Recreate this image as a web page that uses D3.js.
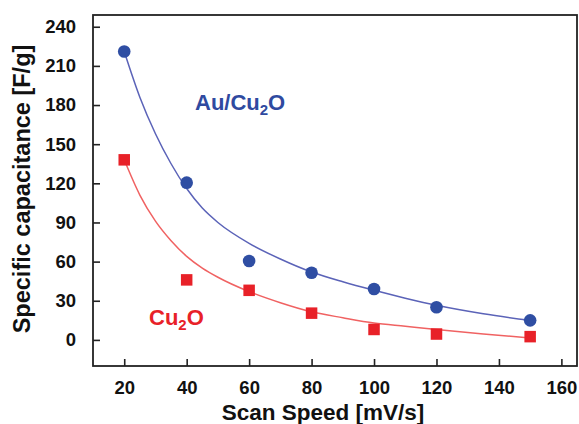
<!DOCTYPE html>
<html><head><meta charset="utf-8">
<script src="https://cdn.jsdelivr.net/npm/d3@7"></script>
<style>
html,body{margin:0;padding:0;background:#fff;}
svg{display:block;font-family:"Liberation Sans",Arial,sans-serif;}
</style></head>
<body><svg id="chart" width="579" height="424"></svg>
<script>
// ---- data ----
const scanSpeeds = [20, 40, 60, 80, 100, 120, 150];
const auCu2O = [221, 120.5, 60.5, 51.5, 39, 25, 15];
const cu2O = [138, 46, 38, 20.5, 8, 4.5, 2.5];
// fitted curves
const fitX = [20, 25, 30, 35, 40, 45, 50, 60, 70, 80, 90, 100, 110, 120, 135, 150];
const auFit = [221, 186, 158, 135, 116, 101, 90, 74, 62, 52, 44.5, 38, 32, 26.5, 20, 15];
const cuFit = [138, 111, 91, 76, 64, 55, 48, 37, 28.5, 21.5, 17, 13, 10.5, 8, 4.5, 1.5];
const xTicks = [20, 40, 60, 80, 100, 120, 140, 160];
const yTicks = [0, 30, 60, 90, 120, 150, 180, 210, 240];

const svg = d3.select("#chart");
const L = 93, R = 577, T = 15, B = 366;
const x = d3.scaleLinear().domain([10, 165]).range([L, R]);
const y = d3.scaleLinear().domain([-20, 249]).range([B, T]);

const blueDot = "#2f4ea3", blueLine = "#5b63b8";
const redSq = "#e82128", redLine = "#f06262";

// fitted lines
const line = d3.line().x(d => x(d[0])).y(d => y(d[1])).curve(d3.curveMonotoneX);
svg.append("path").attr("d", line(fitX.map((v, i) => [v, auFit[i]])))
  .attr("fill", "none").attr("stroke", blueLine).attr("stroke-width", 1.5);
svg.append("path").attr("d", line(fitX.map((v, i) => [v, cuFit[i]])))
  .attr("fill", "none").attr("stroke", redLine).attr("stroke-width", 1.5);

// markers
svg.selectAll("circle.au").data(scanSpeeds).enter().append("circle")
  .attr("cx", d => x(d)).attr("cy", (d, i) => y(auCu2O[i])).attr("r", 6.3)
  .attr("fill", blueDot);
const s = 11.5;
svg.selectAll("rect.cu").data(scanSpeeds).enter().append("rect")
  .attr("x", d => x(d) - s / 2).attr("y", (d, i) => y(cu2O[i]) - s / 2)
  .attr("width", s).attr("height", s).attr("fill", redSq);

// axes (ticks inward)
const xAxis = d3.axisBottom(x).tickValues(xTicks).tickSize(-7).tickPadding(15);
const yAxis = d3.axisLeft(y).tickValues(yTicks).tickSize(-7).tickPadding(17);
const gx = svg.append("g").attr("transform", `translate(0,${B})`).call(xAxis);
const gy = svg.append("g").attr("transform", `translate(${L},0)`).call(yAxis);
[gx, gy].forEach(g => {
  g.select(".domain").remove();
  g.selectAll(".tick line").attr("stroke", "#222").attr("stroke-width", 1.6);
  g.selectAll(".tick text").attr("fill", "#111").attr("font-size", 18.5)
    .attr("font-weight", "bold").attr("font-family", "'Liberation Sans',Arial,sans-serif");
});

// frame
svg.append("rect").attr("x", L).attr("y", T).attr("width", R - L).attr("height", B - T)
  .attr("fill", "none").attr("stroke", "#222").attr("stroke-width", 1.8);

// axis titles
svg.append("text").attr("x", 323).attr("y", 420).attr("text-anchor", "middle")
  .attr("font-size", 22.5).attr("font-weight", "bold").attr("fill", "#111")
  .text("Scan Speed [mV/s]");
svg.append("text").attr("transform", "translate(30,189) rotate(-90)")
  .attr("text-anchor", "middle").attr("font-size", 23.5).attr("font-weight", "bold")
  .attr("fill", "#111").text("Specific capacitance [F/g]");

// series labels
function label(xp, yp, col, pre, sub, post) {
  const t = svg.append("text").attr("x", xp).attr("y", yp).attr("font-size", 22)
    .attr("font-weight", "bold").attr("fill", col);
  t.append("tspan").text(pre);
  t.append("tspan").attr("font-size", 15).attr("dy", 5).text(sub);
  t.append("tspan").attr("dy", -5).text(post);
}
label(195, 110, "#2f4aa0", "Au/Cu", "2", "O");
label(149, 325, "#e82128", "Cu", "2", "O");
</script></body></html>
